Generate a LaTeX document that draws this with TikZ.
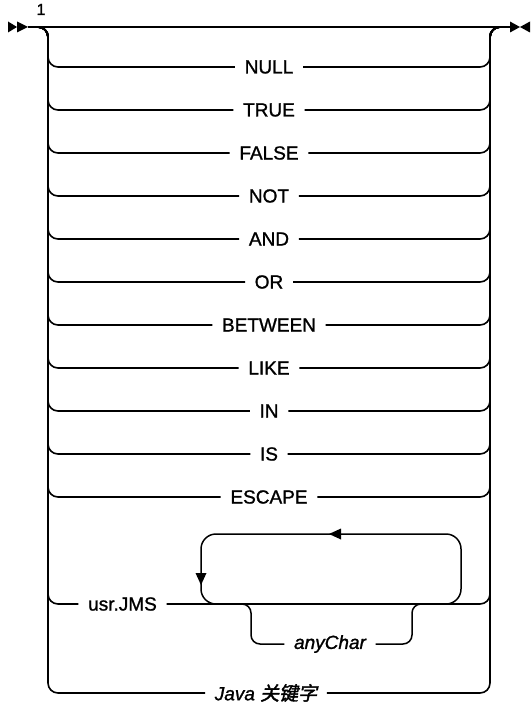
\documentclass[tikz,border=0pt]{standalone}
\usepackage{fontspec}
\setmainfont[FakeBold=1.2]{Liberation Sans}
\newfontfamily\cjk[FakeSlant=0.2,FakeBold=2]{Noto Sans CJK SC}
\begin{document}
\begin{tikzpicture}[x=1pt,y=-1pt,line width=1.5pt,
  railpath/.style={draw,line width=1.6pt,rounded corners=10pt},
  kw/.style={font=\fontsize{19}{22}\selectfont,inner xsep=9pt,inner ysep=2pt},
  var/.style={kw,font=\fontsize{19}{22}\selectfont\itshape},
  tip/.style={fill=black,draw=none}]
\useasboundingbox (0,0) rectangle (531,703);
% main line and end markers
\coordinate (start) at (28,27);
\coordinate (end) at (510,27);
\coordinate (lt) at (38,27);
\coordinate (rt) at (500,27);
\draw (start) -- (end);
\fill[tip] (8,21.5) -- (17,27) -- (8,32.5) -- cycle;
\fill[tip] (17,21.5) -- (28,27) -- (17,32.5) -- cycle;
\fill[tip] (510,21.5) -- (520,27) -- (510,32.5) -- cycle;
\fill[tip] (530,21.5) -- (520,27) -- (530,32.5) -- cycle;
\node[font=\fontsize{16}{18}\selectfont,anchor=base,inner sep=0pt] (note) at (41,15) {1};
% keyword branches
\foreach \t/\n/\y in {NULL/null/67,TRUE/true/110,FALSE/false/153,NOT/not/196,AND/and/239,OR/or/282,BETWEEN/between/325,LIKE/like/368,IN/in/411,IS/is/454,ESCAPE/escape/497}{
  \node[kw] (\n) at (269,\y) {\t};
  \draw[railpath] (lt) -| (48,\y) -- (\n.west);
  \draw[railpath] (\n.east) -| (490,27) -- (rt);
}
% usr.JMS branch
\node[kw] (usr) at (122.5,604) {usr.JMS};
\draw[railpath] (lt) -| (48,604) -- (usr.west);
\draw[railpath] (usr.east) -| (490,27) -- (rt);
% repeat loop
\draw[rounded corners=15pt] (201,534) rectangle (461,604);
\fill[tip] (329,534) -- (341,528.5) -- (341,539.5) -- cycle;
\fill[tip] (201,585) -- (195.5,573) -- (206.5,573) -- cycle;
% anyChar optional
\coordinate (a1) at (237,604);
\coordinate (a2) at (426,604);
\node[var] (any) at (330,644) {anyChar};
\draw[rounded corners=9pt] (a1) -| (251,644) -- (any.west);
\draw[rounded corners=9pt] (any.east) -| (412,604) -- (a2);
% Java keyword branch
\node[var] (java) at (266,693) {Java {\cjk 关键字}};
\draw[railpath] (lt) -| (48,693) -- (java.west);
\draw[railpath] (java.east) -| (490,27) -- (rt);
\end{tikzpicture}
\end{document}
